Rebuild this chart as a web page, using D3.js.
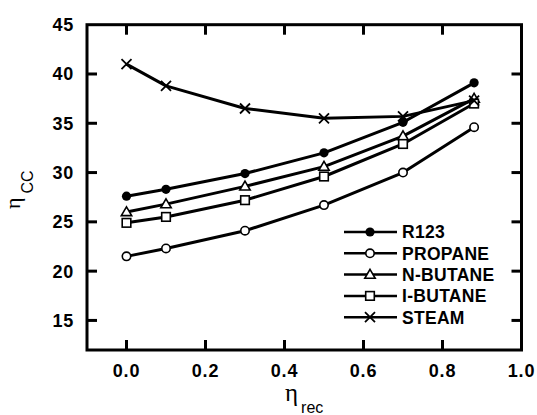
<!DOCTYPE html>
<html>
<head>
<meta charset="utf-8">
<script src="https://cdn.jsdelivr.net/npm/d3@7"></script>
<style>
  body { margin: 0; background: #fff; }
  svg { display: block; }
</style>
</head>
<body>
<div id="chart"></div>
<script>
// eta_rec values for each point
const xVals   = [0, 0.1, 0.3, 0.5, 0.7, 0.88];
const r123    = [27.6, 28.3, 29.9, 32.0, 35.1, 39.1];
const propane = [21.5, 22.3, 24.1, 26.7, 30.0, 34.6];
const nbutane = [26.0, 26.8, 28.6, 30.6, 33.7, 37.5];
const ibutane = [24.9, 25.5, 27.2, 29.6, 32.9, 37.0];
const steam   = [41.0, 38.8, 36.5, 35.5, 35.7, 37.3];
const seriesNames = ['R123', 'PROPANE', 'N-BUTANE', 'I-BUTANE', 'STEAM'];
const xTicks = [0, 0.2, 0.4, 0.6, 0.8, 1.0];
const yTicks = [15, 20, 25, 30, 35, 40, 45];

const W = 537, H = 415;
const svg = d3.select('#chart').append('svg').attr('width', W).attr('height', H);

const L = 87, R = 521.5, T = 24.7, B = 350;
const x = d3.scaleLinear().domain([-0.1, 1.0]).range([L, R]);
const y = d3.scaleLinear().domain([12, 45]).range([B, T]);

const font = '"Liberation Sans", Arial, sans-serif';
const series = [r123, propane, nbutane, ibutane, steam];
const markers = ['dot', 'circle', 'tri', 'square', 'cross'];

// draw one marker at (cx, cy)
function marker(g, type, cx, cy) {
  if (type === 'dot') {
    g.append('circle').attr('cx', cx).attr('cy', cy).attr('r', 4.6).attr('fill', '#000');
  } else if (type === 'circle') {
    g.append('circle').attr('cx', cx).attr('cy', cy).attr('r', 4.2)
      .attr('fill', '#fff').attr('stroke', '#000').attr('stroke-width', 1.6);
  } else if (type === 'tri') {
    const s = 5.2;
    g.append('path').attr('d', `M${cx},${cy - s}L${cx + s},${cy + s * 0.7}L${cx - s},${cy + s * 0.7}Z`)
      .attr('fill', '#fff').attr('stroke', '#000').attr('stroke-width', 1.6);
  } else if (type === 'square') {
    const s = 4.3;
    g.append('rect').attr('x', cx - s).attr('y', cy - s).attr('width', 2 * s).attr('height', 2 * s)
      .attr('fill', '#fff').attr('stroke', '#000').attr('stroke-width', 1.6);
  } else {
    const s = 5;
    g.append('path').attr('d', `M${cx - s},${cy - s}L${cx + s},${cy + s}M${cx - s},${cy + s}L${cx + s},${cy - s}`)
      .attr('stroke', '#000').attr('stroke-width', 1.8);
  }
}

const line = d3.line().x((d, i) => x(xVals[i])).y(d => y(d));

series.forEach((vals, si) => {
  const g = svg.append('g');
  g.append('path').attr('d', line(vals)).attr('fill', 'none')
    .attr('stroke', '#000').attr('stroke-width', 3).attr('stroke-linejoin', 'round');
  vals.forEach((v, i) => marker(g, markers[si], x(xVals[i]), y(v)));
});

// frame
svg.append('rect').attr('x', L).attr('y', T).attr('width', R - L).attr('height', B - T)
  .attr('fill', 'none').attr('stroke', '#000').attr('stroke-width', 3);

// inward ticks on all sides
const tk = 10;
xTicks.filter(t => t < 1).forEach(t => {
  svg.append('line').attr('x1', x(t)).attr('x2', x(t)).attr('y1', B).attr('y2', B - tk)
    .attr('stroke', '#000').attr('stroke-width', 3);
  svg.append('line').attr('x1', x(t)).attr('x2', x(t)).attr('y1', T).attr('y2', T + tk)
    .attr('stroke', '#000').attr('stroke-width', 3);
});
yTicks.filter(t => t < 45).forEach(t => {
  svg.append('line').attr('x1', L).attr('x2', L + tk).attr('y1', y(t)).attr('y2', y(t))
    .attr('stroke', '#000').attr('stroke-width', 3);
  svg.append('line').attr('x1', R).attr('x2', R - tk).attr('y1', y(t)).attr('y2', y(t))
    .attr('stroke', '#000').attr('stroke-width', 3);
});

// tick labels
svg.selectAll('.xl').data(xTicks).enter().append('text')
  .attr('x', d => x(d)).attr('y', 377).attr('text-anchor', 'middle')
  .attr('font-family', font).attr('font-weight', 'bold').attr('font-size', 18)
  .attr('letter-spacing', 0.8)
  .text(d => d.toFixed(1));
svg.selectAll('.yl').data(yTicks).enter().append('text')
  .attr('x', 74).attr('y', d => y(d) + 6.5).attr('text-anchor', 'end')
  .attr('font-family', font).attr('font-weight', 'bold').attr('font-size', 18)
  .attr('letter-spacing', 0.8)
  .text(d => d);

// axis titles
const xt = svg.append('text').attr('x', 285).attr('y', 401).attr('font-family', '"Liberation Serif", serif');
xt.append('tspan').attr('font-size', 25).text('η');
xt.append('tspan').attr('font-family', font).attr('font-size', 16).attr('dx', 3).attr('dy', 12).text('rec');

const yt = svg.append('text').attr('transform', 'translate(20,209) rotate(-90)').attr('font-family', '"Liberation Serif", serif');
yt.append('tspan').attr('font-size', 22).text('η');
yt.append('tspan').attr('font-family', font).attr('font-size', 16).attr('dx', 4).attr('dy', 13).text('CC');

// legend
seriesNames.forEach((name, i) => {
  const ly = 232 + i * 21.3;
  const g = svg.append('g');
  g.append('line').attr('x1', 344).attr('x2', 397).attr('y1', ly).attr('y2', ly)
    .attr('stroke', '#000').attr('stroke-width', 2.5);
  marker(g, markers[i], 370, ly);
  g.append('text').attr('x', 402).attr('y', ly + 6.3)
    .attr('font-family', font).attr('font-weight', 'bold').attr('font-size', 17.5)
    .attr('letter-spacing', 0.3)
    .text(name);
});
</script>
</body>
</html>
